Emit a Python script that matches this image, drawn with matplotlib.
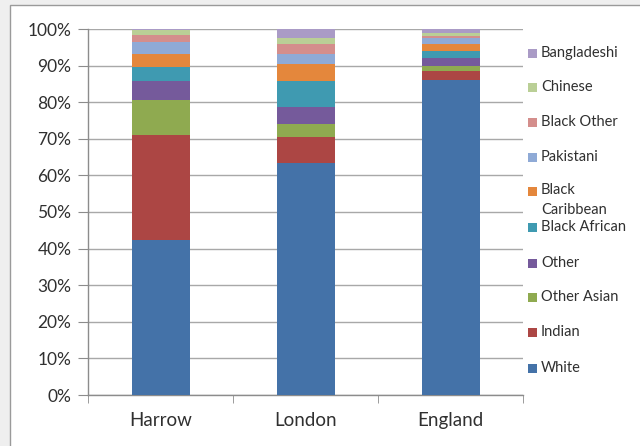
import matplotlib
matplotlib.use("Agg")
import matplotlib.pyplot as plt
from matplotlib.patches import Rectangle
import numpy as np

plt.rcParams['font.family'] = ['Lato', 'DejaVu Sans']

areas = ["Harrow", "London", "England"]
groups = ["White", "Indian", "Other Asian", "Other", "Black African",
          "Black Caribbean", "Pakistani", "Black Other", "Chinese", "Bangladeshi"]
white = [42.4, 63.5, 86.1]
indian = [28.6, 7.1, 2.5]
other_asian = [9.5, 3.5, 1.4]
other = [5.3, 4.7, 2.2]
black_african = [3.8, 7.0, 1.8]
black_caribbean = [3.6, 4.6, 1.9]
pakistani = [3.2, 2.8, 1.6]
black_other = [2.0, 2.7, 0.7]
chinese = [1.3, 1.6, 0.8]
bangladeshi = [0.3, 2.5, 1.0]
series = [white, indian, other_asian, other, black_african,
          black_caribbean, pakistani, black_other, chinese, bangladeshi]
colors = ["#4472A8", "#AC4644", "#8FAA50", "#755A9B", "#3F9AB1",
          "#E4873C", "#8FAAD6", "#D48E8C", "#BACF96", "#AA9BC6"]
legend_labels = ["White", "Indian", "Other Asian", "Other", "Black African",
                 "Black\nCaribbean", "Pakistani", "Black Other", "Chinese", "Bangladeshi"]
yticks = list(range(0, 101, 10))

W, H = 640, 446
fig = plt.figure(figsize=(W / 100, H / 100), dpi=100)
fig.patch.set_facecolor("#efefef")
fig.patches.append(Rectangle((10 / W, -0.1), 1.1, 1 - 5 / H + 0.1, transform=fig.transFigure,
                             facecolor="white", edgecolor="#9a9a9a", linewidth=1.0, zorder=-5))

ax = fig.add_axes([88 / W, 1 - 395 / H, (523 - 88) / W, (395 - 29) / H])
ax.set_zorder(1)
ax.set_facecolor("none")
x = np.arange(len(areas))
bottom = np.zeros(len(areas))
for vals, c, name in zip(series, colors, groups):
    ax.bar(x, vals, width=0.4, bottom=bottom, color=c, label=name, zorder=3)
    bottom += np.array(vals)

ax.set_xlim(-0.5, len(areas) - 0.5)
ax.set_ylim(0, 100)
ax.set_yticks(yticks)
ax.set_yticklabels([f"{t}%" for t in yticks], fontsize=12.5, color="#303030")
ax.yaxis.grid(True, color="#a8a8a8", linewidth=1.0, zorder=0)
ax.set_axisbelow(True)
ax.set_xticks(x)
ax.set_xticklabels(areas, fontsize=13.5, color="#303030")
ax.set_xticks(np.arange(-0.5, len(areas)), minor=True)
ax.tick_params(axis="x", which="major", length=0, pad=12)
ax.tick_params(axis="x", which="minor", length=6, color="#8c8c8c", direction="out")
ax.tick_params(axis="y", length=7, color="#8c8c8c", direction="out", pad=5)
for s in ["top", "right"]:
    ax.spines[s].set_visible(False)
for s in ["left", "bottom"]:
    ax.spines[s].set_color("#8c8c8c")
    ax.spines[s].set_linewidth(1.0)

# legend (top to bottom, reversed order)
ys = [368, 332, 297, 263, 227, 191, 157, 122, 87, 53]
for lab, c, yy in zip(legend_labels, colors, ys):
    fig.patches.append(Rectangle((528 / W, 1 - (yy + 4.5) / H), 9 / W, 9 / H,
                                 transform=fig.transFigure, facecolor=c, edgecolor="none"))
    if "\n" in lab:
        fig.text(541 / W, 1 - (yy - 8) / H, lab, fontsize=10.5, color="#303030",
                 ha="left", va="top", linespacing=1.5)
    else:
        fig.text(541 / W, 1 - yy / H, lab, fontsize=10.5, color="#303030",
                 ha="left", va="center")

fig.savefig("out.png", dpi=100, facecolor=fig.get_facecolor())
